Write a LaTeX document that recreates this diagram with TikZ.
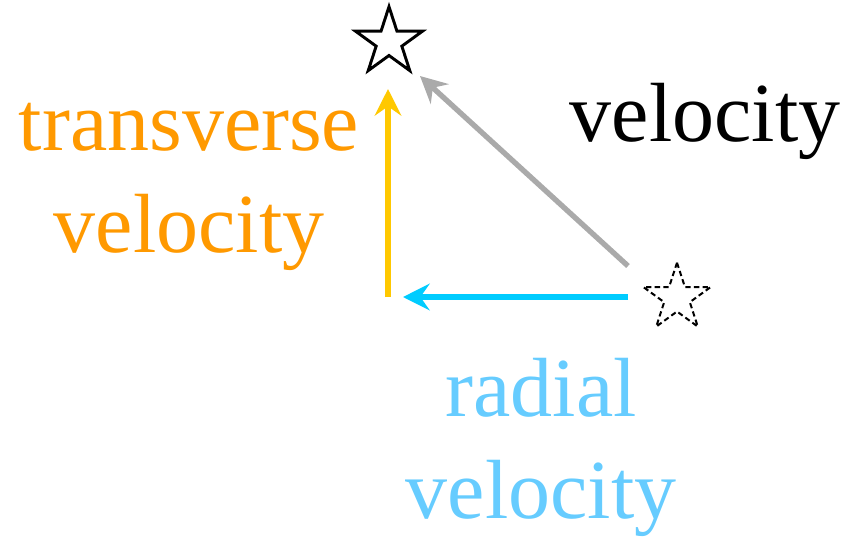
\documentclass[tikz,border=0pt]{standalone}
\usepackage{fontspec}
\setmainfont{Liberation Serif}
\usepackage{xcolor}
\usepackage{tikz}
\usetikzlibrary{shapes.geometric,arrows.meta,positioning,calc}

\definecolor{transcol}{HTML}{FF9900}
\definecolor{transarrow}{HTML}{FFC800}
\definecolor{radcol}{HTML}{66CCFF}
\definecolor{radarrow}{HTML}{00CCFF}
\definecolor{velarrow}{HTML}{AAAAAA}

\begin{document}
\begin{tikzpicture}[x=0.75pt, y=-0.75pt,
    starnode/.style={star, star points=5, star point ratio=2.618, minimum size=53pt, inner sep=0pt, draw=black},
    label/.style={font=\fontsize{63}{76.5}\selectfont, align=center, anchor=base, inner sep=0pt},
    vec/.style={line width=4pt, -{Stealth[length=20pt, width=20pt, inset=7pt]}}]

\useasboundingbox (0,0) rectangle (859,537);

% Stars: star now (top) and star then (dashed)
\node[starnode, line width=2.2pt] (starnow) at (389,42) {};
\node[starnode, line width=1.5pt, dashed, dash pattern=on 4pt off 2.5pt] (starthen) at (677,298) {};

% Arrow ends
\coordinate (vstart) at (628,266);
\coordinate (vend) at (420,76);
\coordinate (tstart) at (388,297);
\coordinate (tend) at (388,89);
\coordinate (rstart) at (628,297);
\coordinate (rend) at (403,297);

% Velocity components
\draw[vec, velarrow] (vstart) -- (vend);
\draw[vec, transarrow] (tstart) -- (tend);
\draw[vec, radarrow] (rstart) -- (rend);

% Labels (anchored at the baseline of the last line)
\node[label, text=black] (vellabel) at (705,141) {velocity};
\node[label, text=transcol] (translabel) at (189,252) {transverse\\velocity};
\node[label, text=radcol] (radlabel) at (541,518) {radial\\velocity};

\end{tikzpicture}
\end{document}
